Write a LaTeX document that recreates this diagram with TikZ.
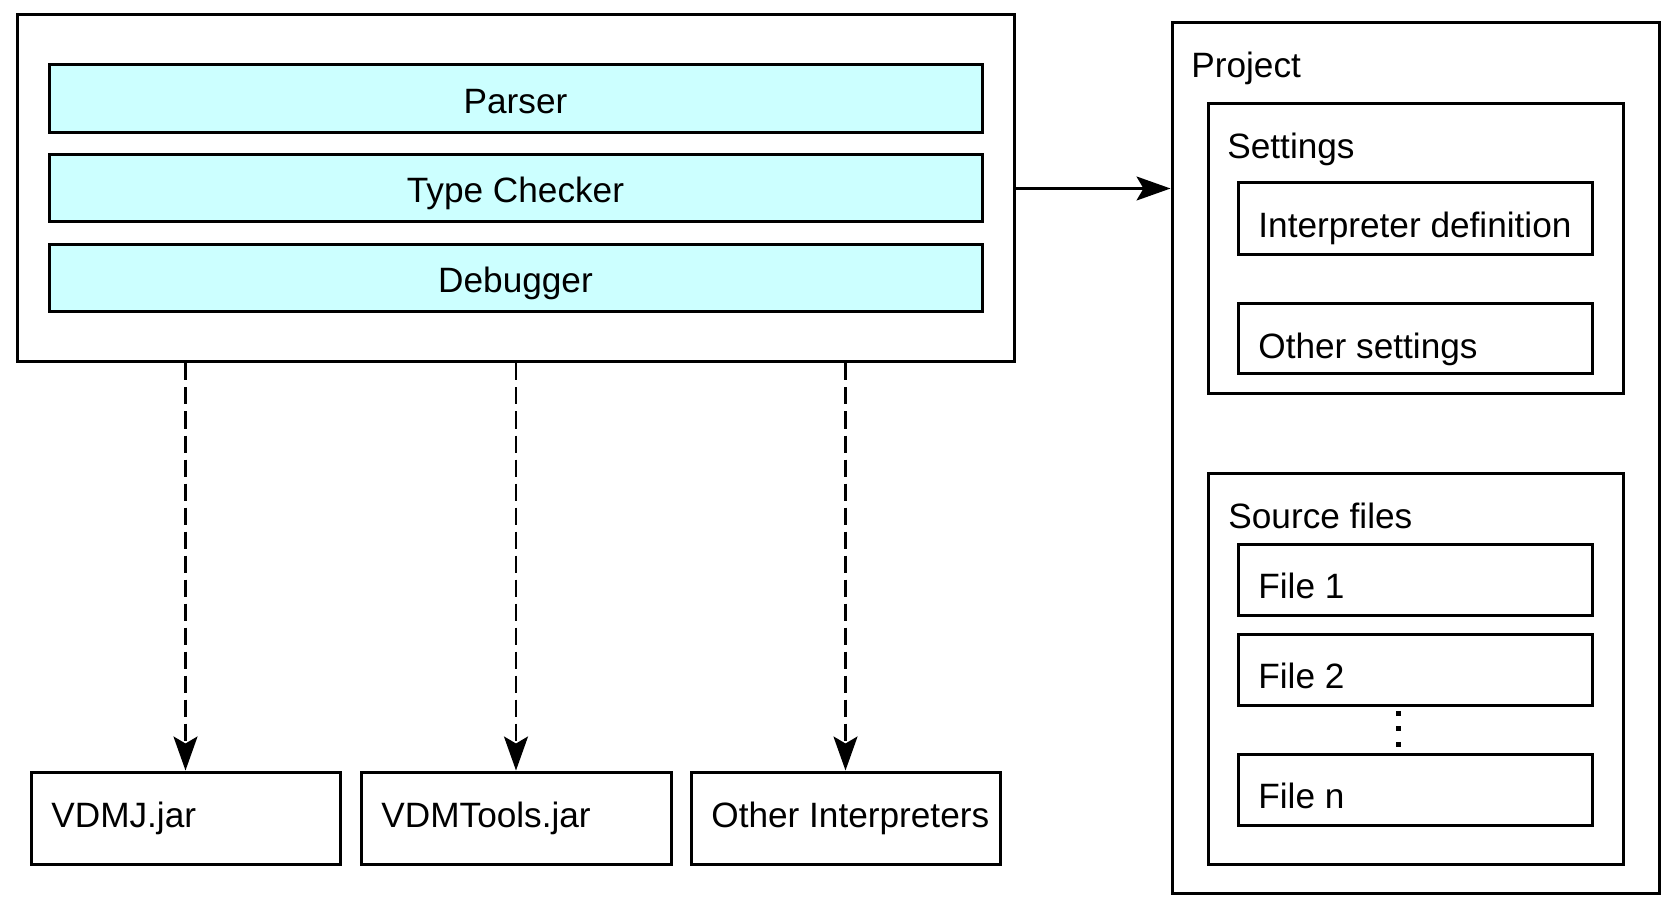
\documentclass[tikz,border=0pt]{standalone}
\usepackage{fontspec}
\setmainfont{Liberation Sans}
\usetikzlibrary{fit,arrows.meta}
\definecolor{paleCyan}{HTML}{CCFFFF}
\begin{document}
\begin{tikzpicture}[x=0.5pt,y=-0.5pt,
  font=\fontsize{17.6}{21}\selectfont,
  frame/.style={draw=black, line width=1.5pt, inner sep=0pt},
  layer/.style={frame, fill=paleCyan},
  ctxt/.style={anchor=center, inner sep=0pt, text height=0.716em, text depth=0pt},
  txt/.style={anchor=base west, inner sep=0pt},
  tipa/.style={-{Stealth[length=17pt,width=12pt,inset=3.5pt]}},
  solidarrow/.style={tipa, line width=1.1pt},
  dasharrow/.style={tipa, line width=1.3pt, dash pattern=on 8.5pt off 3.5pt}]
\useasboundingbox[fill=white] (0,0) rectangle (1677,909);

% main component box
\node[frame, fit={(17,15) (1014,362)}] (main) {};
\node[layer, fit={(49,65) (982,133)}] (parser) {};
\node[layer, fit={(49,155) (982,222)}] (typecheck) {};
\node[layer, fit={(49,245) (982,312)}] (debugger) {};
\node[ctxt] (tparser) at ([yshift=-3.5pt]parser.center) {Parser};
\node[ctxt] (ttypecheck) at ([yshift=-3.5pt]typecheck.center) {Type Checker};
\node[ctxt] (tdebugger) at ([yshift=-3.5pt]debugger.center) {Debugger};

% interpreters
\node[frame, fit={(31,772) (340,864)}] (vdmj) {};
\node[frame, fit={(361,772) (671,864)}] (vdmtools) {};
\node[frame, fit={(691,772) (1000,864)}] (otherint) {};
\node[txt] (tvdmj) at (51,827) {VDMJ.jar};
\node[txt] (tvdmtools) at (381,827) {VDMTools.jar};
\node[txt] (totherint) at (711,827) {Other Interpreters};

% project
\node[frame, fit={(1172,23) (1659,893)}] (project) {};
\node[txt] (tproject) at (1191,78) {Project};
\node[frame, fit={(1208,104) (1623,394)}] (settings) {};
\node[txt] (tsettings) at (1227,159) {Settings};
\node[frame, fit={(1238,183) (1592,255)}] (interp) {};
\node[txt] (tinterp) at (1258,238) {Interpreter definition};
\node[frame, fit={(1238,304) (1592,374)}] (othersettings) {};
\node[txt] (tothersettings) at (1258,358) {Other settings};

\node[frame, fit={(1208,473) (1623,864)}] (source) {};
\node[txt] (tsource) at (1228,528) {Source files};
\node[frame, fit={(1238,544) (1592,615)}] (file1) {};
\node[txt] (tfile1) at (1258,598) {File 1};
\node[frame, fit={(1238,634) (1592,705)}] (file2) {};
\node[txt] (tfile2) at (1258,688) {File 2};
\node[frame, fit={(1238,754) (1592,825)}] (filen) {};
\node[txt] (tfilen) at (1258,808) {File n};

% vertical dots
\fill (1395.5,710.5) rectangle +(5,5);
\fill (1395.5,726) rectangle +(5,5);
\fill (1395.5,741.5) rectangle +(5,5);

% connectors
\draw[solidarrow] (main.east) -- (project.west |- main.east);
\draw[dasharrow] (vdmj.north |- main.south) -- (vdmj.north);
\draw[dasharrow] (vdmtools.north |- main.south) -- (vdmtools.north);
\draw[dasharrow] (otherint.north |- main.south) -- (otherint.north);
\end{tikzpicture}
\end{document}
